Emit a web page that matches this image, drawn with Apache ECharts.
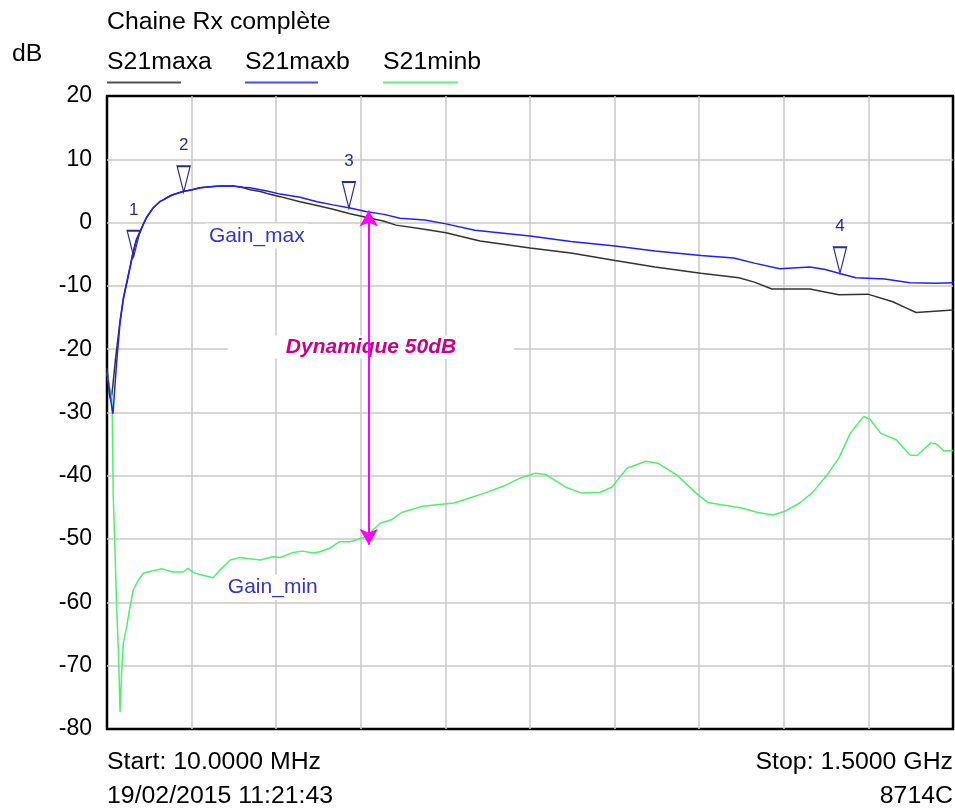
<!DOCTYPE html>
<html>
<head>
<meta charset="utf-8">
<script src="https://cdn.jsdelivr.net/npm/echarts@6/dist/echarts.min.js"></script>
<style>
html,body{margin:0;padding:0;background:#fff;}
#chart{width:955px;height:809px;}
</style>
</head>
<body>
<div id="chart"></div>
<script>
// ---- data (frequency in MHz, level in dB) ----
const freqMaxa = [10, 14, 17, 20, 25, 33, 39, 45, 51, 56, 62, 68, 74, 80, 91, 103, 109, 121, 126, 144, 160, 174, 197, 210, 232, 250, 262, 280, 292, 315, 350, 380, 408, 438, 468, 498, 519, 566, 607, 667, 755, 827, 905, 975, 1056, 1123, 1150, 1181, 1248, 1270, 1299, 1350, 1394, 1420, 1435, 1500];
const valMaxa  = [-23, -27, -28.2, -26, -21.5, -15.5, -11.8, -9.3, -6.8, -4.6, -2.6, -1.4, -0.2, 0.9, 2.3, 3.3, 3.6, 4.2, 4.4, 4.9, 5.2, 5.5, 5.7, 5.8, 5.8, 5.5, 5.2, 4.9, 4.6, 4.1, 3.3, 2.7, 2.1, 1.4, 0.8, 0.2, -0.4, -1.0, -1.6, -2.9, -4.0, -4.8, -6.0, -7.0, -8.0, -8.7, -9.4, -10.5, -10.5, -10.9, -11.4, -11.3, -12.5, -13.6, -14.2, -13.8];

const freqMaxb = [10, 15, 19, 20.6, 23, 27, 33, 39, 45, 51, 56, 62, 68, 74, 80, 91, 103, 109, 121, 126, 144, 160, 174, 197, 210, 232, 250, 262, 280, 292, 315, 350, 380, 408, 438, 468, 498, 526, 570, 607, 658, 755, 827, 905, 975, 1056, 1114, 1150, 1195, 1248, 1275, 1299, 1329, 1380, 1424, 1470, 1500];
const valMaxb  = [-23.5, -27, -29.5, -30.2, -27, -22, -15.8, -12, -9.5, -7, -4.8, -2.8, -1.6, -0.3, 0.8, 2.3, 3.3, 3.6, 4.2, 4.4, 4.9, 5.2, 5.5, 5.7, 5.8, 5.8, 5.6, 5.5, 5.2, 5.0, 4.5, 4.0, 3.3, 2.8, 2.3, 1.7, 1.3, 0.7, 0.4, -0.2, -1.2, -2.1, -3.0, -3.7, -4.5, -5.2, -5.6, -6.4, -7.3, -7.0, -7.4, -8.0, -8.7, -8.9, -9.5, -9.6, -9.5];

const freqMinb = [10, 18.8, 21, 24, 27, 30, 33, 36, 38.8, 44.6, 50.5, 56.4, 65, 74, 91, 107, 126, 144, 153, 162, 179, 197, 209, 227, 244, 280, 302, 315, 338, 355, 373, 385, 403, 420, 438, 443, 468, 471, 491, 512, 529, 566, 621, 642, 676, 709, 737, 764, 783, 818, 845, 878, 899, 926, 959, 980, 1014, 1047, 1068, 1095, 1128, 1156, 1183, 1204, 1230, 1252, 1278, 1299, 1319, 1343, 1354, 1373, 1400, 1424, 1437, 1461, 1472, 1484, 1500];
const valMinb  = [-23.8, -28, -43, -51.7, -60.7, -67.5, -77.3, -70.7, -66.4, -63.9, -60.7, -58, -56.5, -55.4, -55, -54.7, -55.2, -55.2, -54.6, -55.3, -55.7, -56.1, -54.9, -53.3, -52.9, -53.3, -52.8, -52.9, -52.1, -51.9, -52.2, -52, -51.4, -50.4, -50.4, -50.3, -49.6, -49.2, -47.5, -46.9, -45.8, -44.8, -44.3, -43.7, -42.7, -41.6, -40.4, -39.6, -39.8, -41.8, -42.7, -42.6, -41.8, -38.8, -37.7, -38, -39.9, -42.7, -44.2, -44.6, -45.1, -45.8, -46.2, -45.6, -44.3, -42.7, -39.9, -37.2, -33.3, -30.6, -31.1, -33.3, -34.3, -36.7, -36.8, -34.8, -35, -36.1, -36];

const markerFreq   = [57, 145, 436, 1301];
const markerDb     = [-5.4, 4.8, 2.3, -8.0];
const markerLabels = ['1', '2', '3', '4'];

const arrowFreq = 471;
const arrowTopDb = 1.9;
const arrowBottomDb = -50.9;

const yTicks = { min: -80, max: 20, step: 10 };
const seriesNames = ['S21maxa', 'S21maxb', 'S21minb'];
const titleText = 'Chaine Rx complète';
const unitText = 'dB';
const startText = 'Start: 10.0000 MHz';
const stopText = 'Stop: 1.5000 GHz';
const dateText = '19/02/2015 11:21:43';
const modelText = '8714C';
const annotations = [
  { text: 'Gain_max', f: 274, db: -2.1, kind: 'gain' },
  { text: 'Gain_min', f: 302, db: -57.6, kind: 'gain' },
  { text: 'Dynamique 50dB', f: 475, db: -19.65, kind: 'dyn' }
];

// ---- chart ----
const FONT = '"Liberation Sans", Arial, sans-serif';
const zip = (a, b) => a.map((v, i) => [v, b[i]]);
const chart = echarts.init(document.getElementById('chart'), null, { renderer: 'canvas' });

const option = {
  animation: false,
  backgroundColor: '#fff',
  grid: { left: 107, right: 2, top: 96, bottom: 80, show: true, borderColor: '#000', borderWidth: 2.5, backgroundColor: 'transparent' },
  xAxis: [
    { type: 'value', min: 0, max: 10, interval: 1, axisLabel: { show: false }, axisLine: { show: false }, axisTick: { show: false },
      splitLine: { show: true, showMinLine: false, showMaxLine: false, lineStyle: { color: '#c8c8c8', width: 1.5 } } },
    { type: 'value', min: 10, max: 1500, show: false, splitLine: { show: false } }
  ],
  yAxis: {
    type: 'value', min: yTicks.min, max: yTicks.max, interval: yTicks.step,
    axisLine: { show: false }, axisTick: { show: false },
    axisLabel: { color: '#000', fontSize: 23, fontFamily: FONT, margin: 15 },
    splitLine: { show: true, showMinLine: false, showMaxLine: false, lineStyle: { color: '#c8c8c8', width: 1.5 } }
  },
  series: [
    { name: seriesNames[0], type: 'line', xAxisIndex: 1, showSymbol: false, data: zip(freqMaxa, valMaxa),
      lineStyle: { color: '#333333', width: 1.5 }, z: 3 },
    { name: seriesNames[1], type: 'line', xAxisIndex: 1, showSymbol: false, data: zip(freqMaxb, valMaxb),
      lineStyle: { color: '#1f1fff', width: 1.5 }, z: 4,
      markPoint: {
        symbol: 'path://M0,0 L14,0 L7,26 Z', symbolSize: [13, 26], symbolOffset: [0, '-50%'],
        itemStyle: { color: 'rgba(255,255,255,0)', borderColor: '#2a2a9a', borderWidth: 1.5 },
        label: { show: true, position: 'top', distance: 11, color: '#2a2a9a', fontSize: 17, fontFamily: FONT,
                 formatter: p => p.name },
        data: markerFreq.map((f, i) => ({ name: markerLabels[i], coord: [f, markerDb[i]] }))
      }
    },
    { name: seriesNames[2], type: 'line', xAxisIndex: 1, showSymbol: false, data: zip(freqMinb, valMinb),
      lineStyle: { color: '#52ee6e', width: 1.5 }, z: 3,
      markLine: {
        silent: true, symbol: ['arrow', 'arrow'], symbolSize: [14, 16],
        lineStyle: { color: '#ff00ff', width: 2, type: 'solid' },
        label: { show: false },
        data: [[{ coord: [arrowFreq, arrowTopDb] }, { coord: [arrowFreq, arrowBottomDb] }]]
      }
    }
  ]
};
chart.setOption(option);

// ---- texts ----
const SX = 1.08;
function txt(text, x, y, align) {
  return { type: 'text', x: x, y: y, scaleX: SX,
           style: { text: text, fill: '#000', font: '23px ' + FONT, align: align || 'left', verticalAlign: 'middle' } };
}
const legendX = [107, 245, 383];
const legendLineW = [74, 73, 75];
const legendColors = ['#505050', '#4a4aee', '#66ee88'];
const graphics = [
  txt(titleText, 107, 23),
  txt(unitText, 12, 55),
  txt(startText, 107, 763),
  txt(stopText, 953, 763, 'right'),
  txt(dateText, 107, 797),
  txt(modelText, 953, 797, 'right')
];
seriesNames.forEach((n, i) => {
  graphics.push(txt(n, legendX[i], 63));
  graphics.push({ type: 'line', shape: { x1: legendX[i], y1: 82.5, x2: legendX[i] + legendLineW[i], y2: 82.5 },
                  style: { stroke: legendColors[i], lineWidth: 2 } });
});
annotations.forEach(a => {
  const p = chart.convertToPixel({ xAxisIndex: 1, yAxisIndex: 0 }, [a.f, a.db]);
  if (a.kind === 'dyn') {
    graphics.push({ type: 'text', x: p[0], y: p[1], z: 1,
      style: { text: a.text, fill: '#cc0088', font: 'italic bold 21px ' + FONT, align: 'center', verticalAlign: 'middle',
               backgroundColor: '#fff', padding: [1, 58] } });
  } else {
    graphics.push({ type: 'text', x: p[0], y: p[1], z: 1,
      style: { text: a.text, fill: '#3535c8', font: '21px ' + FONT, align: 'center', verticalAlign: 'middle',
               backgroundColor: '#fff', padding: [2, 3] } });
  }
});
chart.setOption({ graphic: graphics });
</script>
</body>
</html>
